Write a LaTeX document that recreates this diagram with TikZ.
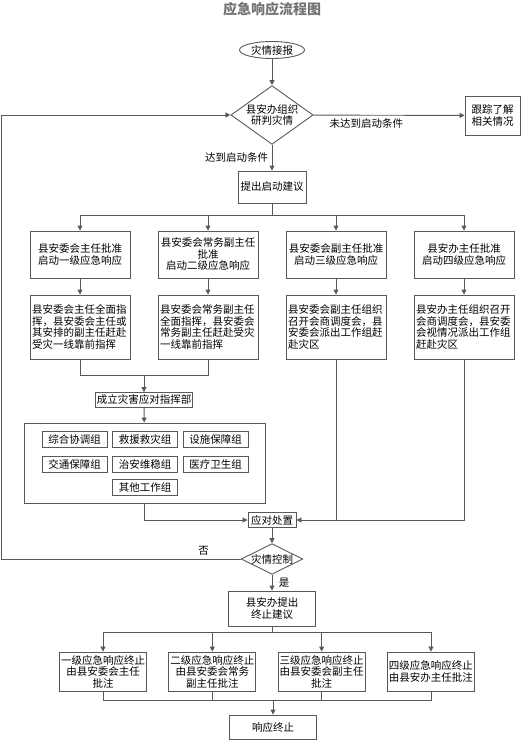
\documentclass[tikz,border=0pt]{standalone}
\usepackage{fontspec}
\setmainfont{Noto Sans CJK SC}
\usepackage{tikz}
\usetikzlibrary{shapes.geometric, arrows.meta}

\begin{document}
\begin{tikzpicture}[x=1pt, y=-1pt,
    font=\fontsize{10.5}{11.5}\selectfont,
    box/.style={draw=black!65, line width=0.9pt, inner sep=1pt, align=center},
    link/.style={draw=black!65, line width=0.9pt},
    arr/.style={link, -{Triangle[length=5pt, width=5pt]}}]
  \useasboundingbox (0,0) rectangle (522,741);

  % Title
  \node[font=\fontsize{14}{16}\selectfont\bfseries, text=black!55] (title) at (272,9) {应急响应流程图};

  % Report and judgement
  \node[box, ellipse, minimum width=65pt, minimum height=17pt, inner sep=0pt] (report) at (272,50) {灾情接报};
  \node[box, diamond, aspect=1.4, inner sep=0pt] (judge) at (272,115) {县安办组织\\研判灾情};
  \node[box, minimum width=55pt, minimum height=39pt] (track) at (492.5,115.5) {跟踪了解\\相关情况};
  \node[box, minimum width=68pt, minimum height=32pt] (propose) at (272,187) {提出启动建议};

  \draw[arr] (report) -- (judge);
  \draw[arr] (judge) -- node[below, pos=0.35] {未达到启动条件} (track);
  \draw[arr] (judge) -- node[left] {达到启动条件} (propose);

  % Four response levels
  \foreach \i/\txt in {1/{县安委会主任批准\\启动一级应急响应},
                       2/{县安委会常务副主任\\批准\\启动二级应急响应},
                       3/{县安委会副主任批准\\启动三级应急响应},
                       4/{县安办主任批准\\启动四级应急响应}}
      \node[box, minimum width=100pt, minimum height=47pt] (start-\i) at ({80+128*(\i-1)},254.5) {\txt};

  \foreach \i/\txt in {1/{县安委会主任全面指\\挥，县安委会主任或\\其安排的副主任赶赴\\受灾一线靠前指挥},
                       2/{县安委会常务副主任\\全面指挥，县安委会\\常务副主任赶赴受灾\\一线靠前指挥},
                       3/{县安委会副主任组织\\召开会商调度会，县\\安委会派出工作组赶\\赴灾区},
                       4/{县安办主任组织召开\\会商调度会，县安委\\会视情况派出工作组\\赶赴灾区}}
      \node[box, align=left, text width=96pt, inner sep=2pt, minimum height=64pt] (act-\i) at ({80+128*(\i-1)},327) {\txt};

  \coordinate (split) at (272,215);
  \draw[link] (propose) -- (split);
  \foreach \i in {1,...,4}
      \draw[arr] (split) -| (start-\i);
  \foreach \i in {1,...,4}
      \draw[arr] (start-\i) -- (act-\i);

  % Command post and working groups
  \node[box, minimum width=97pt, minimum height=15pt, inner sep=0pt] (hq) at (144,400) {成立灾害应对指挥部};
  \node[box, minimum width=241pt, minimum height=80pt] (teams) at (144.5,463) {};
  \foreach \name/\x/\y/\txt in {coord/74.5/439/综合协调组, rescue/145/439/救援救灾组, facility/215.5/439/设施保障组,
                                traffic/74.5/464/交通保障组, security/145/464/治安维稳组, medical/215.5/464/医疗卫生组,
                                other/145/487/其他工作组}
      \node[box, minimum width=65pt, minimum height=16pt, inner sep=0pt] (\name) at (\x,\y) {\txt};

  \coordinate (merge) at (144,375);
  \draw[link] (act-1) |- (merge);
  \draw[link] (act-2) |- (merge);
  \draw[arr] (merge) -- (hq);
  \draw[arr] (hq) -- (teams);

  % Handling and control
  \node[box, minimum width=48pt, minimum height=15pt, inner sep=0pt] (handle) at (272,520) {应对处置};
  \node[box, diamond, aspect=2, inner sep=0pt] (control) at (272,559) {灾情控制};
  \node[box, minimum width=87pt, minimum height=35pt] (stop) at (272,608.5) {县安办提出\\终止建议};

  \draw[arr] (teams) |- (handle);
  \draw[link] (act-3) -- (act-3 |- handle);
  \draw[arr] (act-4) |- (handle);
  \draw[arr] (handle) -- (control);

  \coordinate (back) at (1,559);
  \draw[arr] (control) -- node[above, pos=0.155] {否} (back) |- (judge);
  \draw[arr] (control) -- node[right, xshift=3pt] {是} (stop);

  % Termination
  \foreach \i/\txt in {1/{一级应急响应终止\\由县安委会主任\\批注},
                       2/{二级应急响应终止\\由县安委会常务\\副主任批注},
                       3/{三级应急响应终止\\由县安委会副主任\\批注},
                       4/{四级应急响应终止\\由县安办主任批注}}
      \node[box, minimum width=87pt, minimum height=39pt, inner sep=0pt] (end-\i) at ({103+109.33*(\i-1)},671.5) {\txt};

  \node[box, minimum width=87pt, minimum height=24pt] (finish) at (273,727) {响应终止};

  \coordinate (split2) at (272,632);
  \draw[link] (stop) -- (split2);
  \foreach \i in {1,...,4}
      \draw[arr] (split2) -| (end-\i);

  \coordinate (merge2) at (273,700);
  \foreach \i in {1,...,4}
      \draw[link] (end-\i) |- (merge2);
  \draw[arr] (merge2) -- (finish);
\end{tikzpicture}
\end{document}
